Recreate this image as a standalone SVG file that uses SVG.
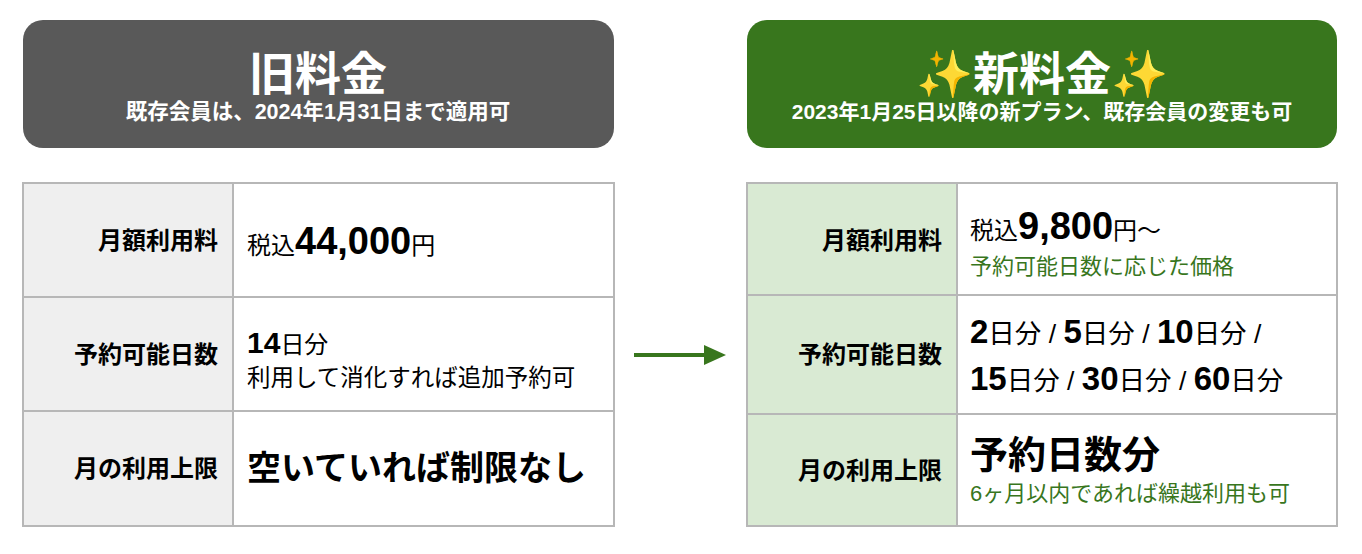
<svg xmlns="http://www.w3.org/2000/svg" width="1362" height="554" viewBox="0 0 1362 554">
<style>
text{font-family:"Liberation Sans","Noto Sans CJK JP",sans-serif}
.h{fill:#fff;font-weight:bold;text-anchor:middle}
.lb{font-size:24px;font-weight:bold;text-anchor:end;fill:#000}
.c{fill:#000}
.b{font-weight:bold}
.g{fill:#38761d;font-size:22px}
.cell{stroke:#b7b7b7;stroke-width:2}
</style>
<rect width="1362" height="554" fill="#fff"/>
<g id="old-header">
<rect x="23" y="20" width="591" height="128" rx="20" fill="#595959"/>
<text class="h" x="318" y="90" style="font-size:46px">旧料金</text>
<text class="h" x="318" y="119" style="font-size:21.5px">既存会員は、2024年1月31日まで適用可</text>
</g>
<g id="new-header">
<rect x="747" y="20" width="590" height="128" rx="20" fill="#38761d"/>
<text class="h" x="1042" y="90" style="font-size:46px"><tspan fill="#f5c518">✨</tspan>新料金<tspan fill="#f5c518">✨</tspan></text>
<text class="h" x="1042" y="119" style="font-size:21px">2023年1月25日以降の新プラン、既存会員の変更も可</text>
</g>
<g id="old-table">
<rect class="cell" x="23" y="183" width="210" height="114" fill="#efefef"/>
<rect class="cell" x="233" y="183" width="381" height="114" fill="#fff"/>
<rect class="cell" x="23" y="297" width="210" height="114" fill="#efefef"/>
<rect class="cell" x="233" y="297" width="381" height="114" fill="#fff"/>
<rect class="cell" x="23" y="411" width="210" height="115" fill="#efefef"/>
<rect class="cell" x="233" y="411" width="381" height="115" fill="#fff"/>
<text class="lb" x="218" y="249">月額利用料</text>
<text class="lb" x="218" y="363">予約可能日数</text>
<text class="lb" x="218" y="477">月の利用上限</text>
<text class="c" x="247" y="254" style="font-size:24px">税込<tspan class="b" style="font-size:38px">44,000</tspan>円</text>
<text class="c" x="247" y="353" style="font-size:24px"><tspan class="b" style="font-size:30px">14</tspan>日分</text>
<text class="c" x="247" y="386" style="font-size:23.5px">利用して消化すれば追加予約可</text>
<text class="c b" x="247" y="480" style="font-size:34px">空いていれば制限なし</text>
</g>
<g id="new-table">
<rect class="cell" x="747" y="183" width="210" height="112" fill="#d9ead3"/>
<rect class="cell" x="957" y="183" width="380" height="112" fill="#fff"/>
<rect class="cell" x="747" y="295" width="210" height="119" fill="#d9ead3"/>
<rect class="cell" x="957" y="295" width="380" height="119" fill="#fff"/>
<rect class="cell" x="747" y="414" width="210" height="112" fill="#d9ead3"/>
<rect class="cell" x="957" y="414" width="380" height="112" fill="#fff"/>
<text class="lb" x="942" y="249">月額利用料</text>
<text class="lb" x="942" y="363">予約可能日数</text>
<text class="lb" x="942" y="479">月の利用上限</text>
<text class="c" x="970" y="239" style="font-size:24px">税込<tspan class="b" style="font-size:38px">9,800</tspan>円～</text>
<text class="g" x="970" y="274">予約可能日数に応じた価格</text>
<text class="c" x="970" y="343" style="font-size:26.5px"><tspan class="b" style="font-size:33px">2</tspan>日分 / <tspan class="b" style="font-size:33px">5</tspan>日分 / <tspan class="b" style="font-size:33px">10</tspan>日分 /</text>
<text class="c" x="970" y="390" style="font-size:26.5px"><tspan class="b" style="font-size:33px">15</tspan>日分 / <tspan class="b" style="font-size:33px">30</tspan>日分 / <tspan class="b" style="font-size:33px">60</tspan>日分</text>
<text class="c b" x="970" y="468" style="font-size:38px">予約日数分</text>
<text class="g" x="970" y="501">6ヶ月以内であれば繰越利用も可</text>
</g>
<g id="connectors">
<line x1="634" y1="355" x2="708" y2="355" stroke="#38761d" stroke-width="4"/>
<polygon points="704,345 726,355 704,365" fill="#38761d"/>
</g>
</svg>
